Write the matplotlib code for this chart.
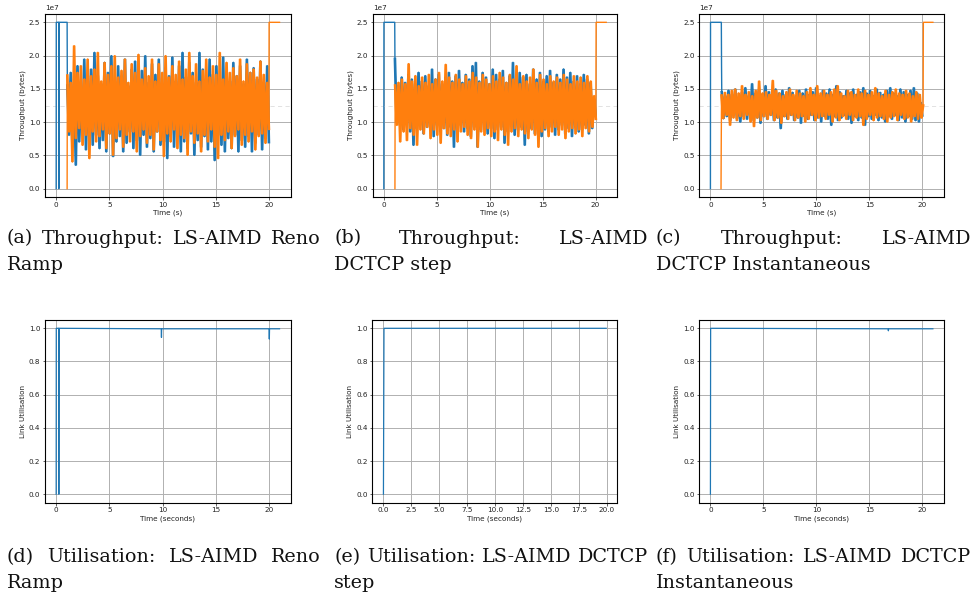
import numpy as np
import matplotlib
matplotlib.use("Agg")
import matplotlib.pyplot as plt

W, H, DPI = 979, 596, 100
BLUE = "#1f77b4"
ORANGE = "#ff7f0e"

# ---------------- data (throughput in units of 1e7 bytes) ----------------
# (a) LS-AIMD Reno Ramp
ramp_blue_start_t = [0.0, 0.01, 0.24, 0.25, 0.27, 1.03]
ramp_blue_start_v = [0.0, 2.5, 2.5, 0.0, 2.5, 2.5]
ramp_blue_noise = [
    1.55, 0.80, 1.75, 0.62, 1.60, 0.35, 1.85, 0.70, 1.50, 0.85, 1.95, 0.58, 1.65, 0.75, 1.80, 0.65, 2.05, 0.80, 1.70, 0.60,
    1.58, 0.72, 1.90, 0.55, 1.75, 0.82, 2.00, 0.48, 1.62, 0.70, 1.85, 0.78, 1.70, 0.55, 1.95, 0.68, 1.55, 0.85, 1.80, 0.60,
    1.92, 0.72, 1.65, 0.50, 1.78, 0.80, 2.00, 0.62, 1.60, 0.75, 1.88, 0.55, 1.72, 0.85, 1.95, 0.65, 1.58, 0.70, 1.82, 0.45,
    1.70, 0.78, 1.98, 0.62, 1.62, 0.80, 1.85, 0.55, 2.05, 0.70, 1.68, 0.60, 1.90, 0.82, 1.75, 0.50, 1.60, 0.72, 2.05, 0.62,
    1.80, 0.78, 1.65, 0.58, 1.95, 0.70, 1.72, 0.42, 1.85, 0.80, 1.60, 0.65, 1.98, 0.55, 1.75, 0.75, 1.62, 0.60, 1.90, 0.80,
    1.70, 0.55, 1.85, 0.72, 1.58, 0.62, 1.95, 0.78, 1.75, 0.55, 1.82, 0.68, 1.65, 0.80, 1.92, 0.58, 1.60, 0.75, 1.85, 0.70]
ramp_orange_start_t = [1.03]
ramp_orange_start_v = [0.0]
ramp_orange_noise = [
    1.70, 0.85, 1.60, 0.40, 2.15, 0.75, 1.75, 0.90, 1.85, 0.65, 1.65, 0.80, 1.95, 0.45, 1.70, 0.85, 1.80, 0.70, 2.05, 0.78,
    1.62, 0.88, 1.90, 0.60, 1.72, 0.82, 1.85, 0.50, 2.00, 0.75, 1.68, 0.88, 1.78, 0.62, 1.95, 0.80, 1.60, 0.70, 1.88, 0.85,
    1.75, 0.55, 2.02, 0.78, 1.65, 0.88, 1.82, 0.68, 1.70, 0.80, 1.95, 0.58, 1.62, 0.85, 1.88, 0.72, 1.75, 0.48, 2.00, 0.82,
    1.68, 0.70, 1.85, 0.88, 1.72, 0.60, 1.92, 0.80, 1.65, 0.75, 1.80, 0.50, 2.05, 0.85, 1.70, 0.68, 1.88, 0.82, 1.62, 0.55,
    1.78, 0.80, 1.95, 0.70, 1.68, 0.88, 1.85, 0.62, 1.72, 0.45, 2.05, 0.80, 1.65, 0.72, 1.90, 0.85, 1.75, 0.60, 1.82, 0.78,
    1.70, 0.88, 1.95, 0.65, 1.62, 0.80, 1.88, 0.70, 1.75, 0.85, 1.80, 0.58, 1.68, 0.78, 1.92, 0.82, 1.72, 0.68, 1.60, 0.90]
ramp_orange_end_t = [20.02, 21.0]
ramp_orange_end_v = [2.5, 2.5]

# (b) LS-AIMD DCTCP step
step_blue_start_t = [0.0, 0.01, 1.03]
step_blue_start_v = [0.0, 2.5, 2.5]
step_blue_noise = [
    1.95, 1.00, 1.55, 0.95, 1.68, 0.88, 1.60, 0.98, 1.72, 0.85, 1.65, 0.65, 1.58, 0.90, 1.75, 0.95, 1.62, 0.82, 1.70, 0.92,
    1.55, 0.88, 1.80, 0.78, 1.65, 0.95, 1.72, 0.85, 1.58, 0.90, 1.68, 0.80, 1.75, 0.92, 1.62, 0.62, 1.70, 0.88, 1.78, 0.95,
    1.60, 0.85, 1.72, 0.90, 1.65, 0.78, 1.85, 0.92, 1.90, 0.62, 1.62, 0.88, 1.75, 0.95, 1.68, 0.82, 1.58, 0.90, 1.80, 0.75,
    1.72, 0.88, 1.65, 0.92, 1.78, 0.68, 1.60, 0.85, 1.70, 0.95, 1.90, 0.80, 1.62, 0.88, 1.75, 0.92, 1.68, 0.65, 1.72, 0.85,
    1.58, 0.90, 1.80, 0.82, 1.65, 0.95, 1.75, 0.78, 1.62, 0.88, 1.70, 0.85, 1.78, 0.92, 1.60, 0.80, 1.72, 0.88, 1.65, 0.95,
    1.80, 0.82, 1.68, 0.90, 1.75, 0.78, 1.62, 0.92, 1.70, 0.85, 1.58, 0.88, 1.72, 0.95, 1.65, 0.82, 1.60, 0.90, 1.35, 1.10]
step_orange_start_t = [1.05]
step_orange_start_v = [0.0]
step_orange_noise = [
    1.55, 0.95, 1.60, 0.70, 1.65, 0.85, 1.58, 0.72, 1.88, 0.90, 1.62, 0.80, 1.70, 0.65, 1.55, 0.88, 1.68, 0.82, 1.60, 0.92,
    1.72, 0.75, 1.58, 0.88, 1.65, 0.80, 1.75, 0.68, 1.62, 0.90, 1.87, 0.82, 1.68, 0.78, 1.60, 0.88, 1.72, 0.70, 1.65, 0.85,
    1.58, 0.92, 1.70, 0.80, 1.62, 0.75, 1.75, 0.88, 1.68, 0.62, 1.60, 0.85, 1.72, 0.80, 1.65, 0.90, 1.58, 0.78, 1.70, 0.85,
    1.62, 0.72, 1.75, 0.88, 1.68, 0.80, 1.60, 0.65, 1.72, 0.85, 1.65, 0.90, 1.85, 0.78, 1.58, 0.88, 1.70, 0.82, 1.62, 0.75,
    1.68, 0.88, 1.80, 0.80, 1.60, 0.62, 1.72, 0.85, 1.65, 0.90, 1.58, 0.78, 1.70, 0.85, 1.62, 0.92, 1.68, 0.80, 1.60, 0.88,
    1.72, 0.75, 1.65, 0.85, 1.58, 0.90, 1.70, 0.82, 1.62, 0.88, 1.68, 0.78, 1.60, 0.90, 1.70, 0.85, 1.62, 0.92, 1.40, 1.05]
step_orange_end_t = [20.05, 21.0]
step_orange_end_v = [2.5, 2.5]

# (c) LS-AIMD DCTCP Instantaneous
inst_blue_start_t = [0.0, 0.01, 1.03, 1.05]
inst_blue_start_v = [0.0, 2.5, 2.5, 1.85]
inst_blue_noise = [
    1.45, 1.05, 1.40, 1.08, 1.48, 1.02, 1.42, 1.10, 1.50, 1.05, 1.38, 1.00, 1.45, 1.08, 1.52, 1.04, 1.40, 1.10, 1.58, 1.02,
    1.44, 1.06, 1.48, 0.98, 1.42, 1.08, 1.55, 1.04, 1.46, 1.10, 1.40, 1.02, 1.50, 1.06, 1.44, 0.90, 1.48, 1.08, 1.42, 1.04,
    1.52, 1.10, 1.45, 1.02, 1.40, 1.06, 1.48, 0.98, 1.44, 1.08, 1.50, 1.04, 1.42, 1.10, 1.46, 1.02, 1.52, 1.06, 1.40, 1.00,
    1.48, 1.08, 1.44, 1.04, 1.50, 0.95, 1.42, 1.08, 1.55, 1.02, 1.46, 1.06, 1.40, 1.10, 1.48, 1.04, 1.44, 0.98, 1.50, 1.08,
    1.42, 1.02, 1.46, 1.06, 1.52, 0.95, 1.44, 1.08, 1.48, 1.04, 1.40, 1.10, 1.50, 1.02, 1.45, 1.06, 1.42, 1.00, 1.48, 1.08,
    1.52, 1.04, 1.44, 1.10, 1.40, 1.02, 1.50, 1.06, 1.46, 1.00, 1.42, 1.08, 1.48, 1.04, 1.52, 1.02, 1.44, 1.00, 1.30, 1.10]
inst_orange_start_t = [1.0, 1.02]
inst_orange_start_v = [0.0, 0.65]
inst_orange_noise = [
    1.40, 1.05, 1.45, 1.10, 1.42, 0.95, 1.48, 1.06, 1.50, 1.02, 1.44, 1.08, 1.55, 1.04, 1.42, 1.10, 1.46, 1.00, 1.40, 0.93,
    1.48, 1.06, 1.62, 1.02, 1.44, 1.08, 1.46, 1.04, 1.42, 1.10, 1.63, 1.02, 1.48, 1.06, 1.44, 0.98, 1.40, 1.08, 1.46, 1.04,
    1.50, 1.10, 1.42, 1.02, 1.48, 1.06, 1.44, 1.08, 1.40, 1.00, 1.46, 1.04, 1.52, 1.10, 1.42, 1.02, 1.55, 1.06, 1.44, 1.08,
    1.48, 1.04, 1.42, 1.10, 1.46, 1.00, 1.50, 1.06, 1.55, 1.02, 1.44, 1.08, 1.40, 1.04, 1.48, 1.10, 1.46, 1.02, 1.42, 1.06,
    1.50, 1.08, 1.44, 0.95, 1.48, 1.04, 1.42, 1.10, 1.46, 1.02, 1.52, 1.06, 1.44, 1.08, 1.40, 1.04, 1.48, 1.00, 1.42, 1.06,
    1.46, 1.08, 1.50, 1.02, 1.44, 1.10, 1.42, 1.04, 1.48, 1.06, 1.44, 1.00, 1.40, 1.08, 1.46, 1.04, 1.42, 1.06, 1.25]
inst_orange_end_t = [20.1, 21.0]
inst_orange_end_v = [2.5, 2.5]

# link utilisation
util_ramp_t = [0.0, 0.01, 0.24, 0.25, 0.27, 9.88, 9.9, 9.92, 20.02, 20.04, 20.06, 21.0]
util_ramp_v = [0.0, 1.0, 1.0, 0.0, 1.0, 0.997, 0.945, 0.997, 0.997, 0.935, 0.997, 0.997]
util_step_t = [0.0, 0.05, 19.95]
util_step_v = [0.0, 1.0, 1.0]
util_inst_t = [0.0, 0.02, 16.78, 16.8, 16.82, 21.0]
util_inst_v = [0.0, 1.0, 0.997, 0.985, 0.997, 0.997]

thr_yticks = [0.0, 0.5, 1.0, 1.5, 2.0, 2.5]
util_yticks = [0.0, 0.2, 0.4, 0.6, 0.8, 1.0]
fair_share = 1.25

captions = [
    (["(a)", "Throughput:", "LS-AIMD", "Reno"], "Ramp"),
    (["(b)", "Throughput:", "LS-AIMD"], "DCTCP step"),
    (["(c)", "Throughput:", "LS-AIMD"], "DCTCP Instantaneous"),
    (["(d)", "Utilisation:", "LS-AIMD", "Reno"], "Ramp"),
    (["(e)", "Utilisation:", "LS-AIMD", "DCTCP"], "step"),
    (["(f)", "Utilisation:", "LS-AIMD", "DCTCP"], "Instantaneous"),
]


def build(start_t, start_v, noise, t0, t1, end_t=None, end_v=None):
    """Return (full series, noisy part) as (t, v) arrays in bytes."""
    nt = np.linspace(t0, t1, len(noise))
    t = list(start_t) + list(nt)
    v = list(start_v) + list(noise)
    if end_t is not None:
        t += list(end_t)
        v += list(end_v)
    return (np.array(t), np.array(v) * 1e7), (nt, np.array(noise) * 1e7)


# ---------------- figure ----------------
plt.rcParams["font.family"] = ["DejaVu Sans"]
fig = plt.figure(figsize=(W / DPI, H / DPI), dpi=DPI)

FS = 5.2


def px_axes(l, r, t, b):
    return fig.add_axes([l / W, 1 - b / H, (r - l) / W, (b - t) / H])


def style(ax):
    ax.grid(True, color="#b0b0b0", lw=0.7)
    ax.set_axisbelow(True)
    for s in ax.spines.values():
        s.set_linewidth(0.8)
    ax.tick_params(labelsize=FS, length=1.8, width=0.5, pad=1.5, colors="#222222")


cols = [(45, 290.7), (372.7, 617.3), (699.3, 944)]

thr_series = [
    (build(ramp_blue_start_t, ramp_blue_start_v, ramp_blue_noise, 1.05, 20.0),
     build(ramp_orange_start_t, ramp_orange_start_v, ramp_orange_noise, 1.05, 20.0,
           ramp_orange_end_t, ramp_orange_end_v)),
    (build(step_blue_start_t, step_blue_start_v, step_blue_noise, 1.05, 20.0),
     build(step_orange_start_t, step_orange_start_v, step_orange_noise, 1.07, 20.02,
           step_orange_end_t, step_orange_end_v)),
    (build(inst_blue_start_t, inst_blue_start_v, inst_blue_noise, 1.07, 20.0),
     build(inst_orange_start_t, inst_orange_start_v, inst_orange_noise, 1.05, 20.08,
           inst_orange_end_t, inst_orange_end_v)),
]

for (l, r), (blue, orange) in zip(cols, thr_series):
    ax = px_axes(l, r, 14, 197)
    style(ax)
    ax.axhline(fair_share * 1e7, color="#dddddd", lw=0.6, ls=(0, (5, 4)), zorder=1)
    for z, (full, noisy), c in ((2, blue, BLUE), (4, orange, ORANGE)):
        ax.plot(full[0], full[1], color=c, lw=1.0, zorder=z)
        ax.plot(noisy[0], noisy[1], color=c, lw=1.9, zorder=z + 0.5, solid_joinstyle="miter")
    ax.set_xlim(-1.05, 22.05)
    ax.set_ylim(-0.125e7, 2.625e7)
    ax.set_xticks([0, 5, 10, 15, 20])
    ax.set_yticks(np.array(thr_yticks) * 1e7)
    ax.yaxis.get_offset_text().set_fontsize(FS)
    ax.yaxis.get_offset_text().set_color("#222222")
    ax.set_xlabel("Time (s)", fontsize=FS, labelpad=1.5, color="#222222")
    ax.set_ylabel("Throughput (bytes)", fontsize=FS, labelpad=2, color="#222222")

util_series = [(util_ramp_t, util_ramp_v), (util_step_t, util_step_v), (util_inst_t, util_inst_v)]
util_cols = [(45, 290.7), (372.3, 617.3), (699.3, 944)]
for i, ((l, r), (t, v)) in enumerate(zip(util_cols, util_series)):
    ax = px_axes(l, r, 320, 502.5)
    style(ax)
    ax.plot(t, v, color=BLUE, lw=0.9)
    ax.margins(x=0.05, y=0.05)
    ax.set_ylim(-0.05, 1.05)
    if i == 1:
        ax.set_xticks(np.arange(0, 20.01, 2.5))
    else:
        ax.set_xticks([0, 5, 10, 15, 20])
    ax.set_yticks(util_yticks)
    ax.set_xlabel("Time (seconds)", fontsize=FS, labelpad=1.5, color="#222222")
    ax.set_ylabel("Link Utilisation", fontsize=FS, labelpad=2, color="#222222")

# ---------------- captions (justified first line) ----------------
renderer = fig.canvas.get_renderer()
CAP_FS = 13.8
cap_cols = [(7, 321), (334, 648), (656, 971)]
rows = [(243.5, 270.0), (562.5, 588.0)]


def put(word, xpx, ypx):
    return fig.text(xpx / W, 1 - ypx / H, word, fontsize=CAP_FS, family="DejaVu Serif",
                    ha="left", va="baseline", color="#111111")


for k, (words, line2) in enumerate(captions):
    x0, x1 = cap_cols[k % 3]
    y1, y2 = rows[k // 3]
    texts = [put(w, 0, y1) for w in words]
    widths = [t.get_window_extent(renderer).width for t in texts]
    gap = (x1 - x0 - sum(widths)) / (len(words) - 1)
    gap = max(gap, 3.0)
    x = x0
    for t, w in zip(texts, widths):
        t.set_x(x / W)
        x += w + gap
    put(line2, x0, y2)

fig.savefig("out.png", dpi=DPI)
